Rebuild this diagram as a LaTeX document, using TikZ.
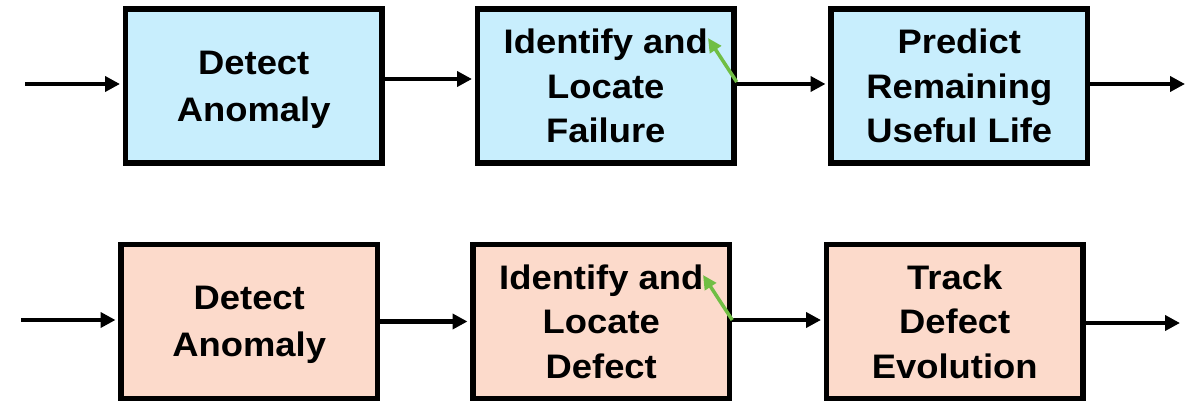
\documentclass[tikz,border=0pt]{standalone}
\usepackage{fontspec}
\setmainfont{Liberation Sans}[FakeStretch=1.07]
\usetikzlibrary{arrows.meta}
\definecolor{bluefill}{RGB}{200,238,253}
\definecolor{pinkfill}{RGB}{252,218,203}
\definecolor{grn}{RGB}{112,190,68}
\tikzset{
  box/.style={draw=black, line width=5.5pt, minimum width=256.5pt, minimum height=154pt,
    inner sep=0pt, align=center, text depth=0pt, font=\bfseries\fontsize{34}{46.7}\selectfont},
  boxthree/.style={box, font=\bfseries\fontsize{34}{44.5}\selectfont},
  flow/.style={line width=4.5pt, -{Triangle[length=15pt,width=15pt]}},
  hint/.style={draw=grn, line width=3.5pt, -{Triangle[length=14pt,width=13pt]}}
}
\begin{document}
\begin{tikzpicture}[x=1pt,y=-1pt]
\useasboundingbox (0,0) rectangle (1200,401);
% top row
\node[box, fill=bluefill] (t1) at (253.75,86) {Detect\\Anomaly};
\node[boxthree, fill=bluefill] (t2) at (605.75,86) {Identify and\\Locate\\Failure};
\node[boxthree, fill=bluefill] (t3) at (959.25,86) {Predict\\Remaining\\Useful Life};
% bottom row
\node[box, fill=pinkfill] (b1) at (249.25,321.5) {Detect\\Anomaly};
\node[boxthree, fill=pinkfill] (b2) at (601.25,321.5) {Identify and\\Locate\\Defect};
\node[boxthree, fill=pinkfill] (b3) at (954.75,321.5) {Track\\Defect\\Evolution};
% coordinates
\coordinate (tin) at (25,84);
\coordinate (tm1) at (0,79);
\coordinate (tm2) at (0,84);
\coordinate (tout) at (1185,84);
\coordinate (tgs) at (0,82);
\coordinate (tgt) at (708,38);
\coordinate (bin) at (21,320);
\coordinate (bm1) at (0,321.5);
\coordinate (bm2) at (0,320);
\coordinate (bout) at (1180,323);
\coordinate (bgs) at (0,320);
\coordinate (bgt) at (703,275);
% top connectors
\draw[flow, shorten >=2.75pt] (tin) -- (tin -| t1.west);
\draw[flow, shorten >=2.75pt] (t1.east |- tm1) -- (t2.west |- tm1);
\draw[flow, shorten >=2.75pt] (t2.east |- tm2) -- (t3.west |- tm2);
\draw[flow] (t3.east |- tout) -- (tout);
\draw[hint] (t2.east |- tgs) -- (tgt);
% bottom connectors
\draw[flow, shorten >=2.75pt] (bin) -- (bin -| b1.west);
\draw[flow, shorten >=2.75pt] (b1.east |- bm1) -- (b2.west |- bm1);
\draw[flow, shorten >=2.75pt] (b2.east |- bm2) -- (b3.west |- bm2);
\draw[flow] (b3.east |- bout) -- (bout);
\draw[hint] (b2.east |- bgs) -- (bgt);
\end{tikzpicture}
\end{document}
